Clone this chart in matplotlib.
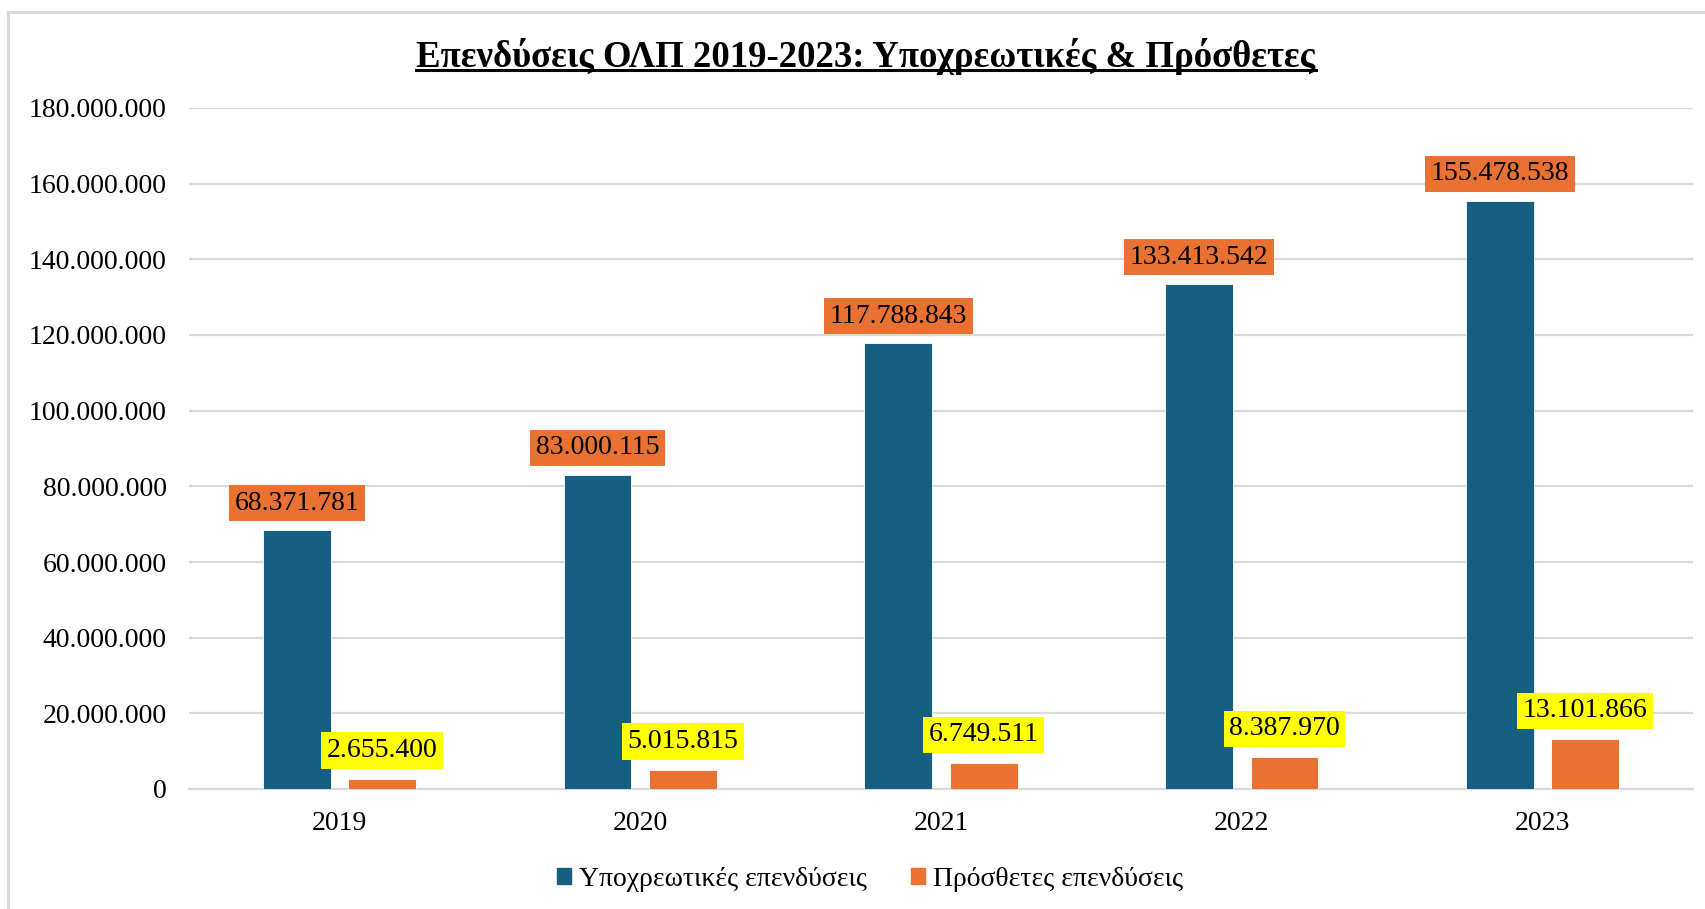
import numpy as np
import matplotlib
matplotlib.use("Agg")
import matplotlib.pyplot as plt
from matplotlib.patches import Patch, Rectangle
from matplotlib.lines import Line2D
from matplotlib.ticker import FuncFormatter

plt.rcParams['font.family'] = ['Liberation Serif', 'DejaVu Serif']

# data
years = ['2019', '2020', '2021', '2022', '2023']
ypoxreotikes = [68371781, 83000115, 117788843, 133413542, 155478538]
prostheta = [2655400, 5015815, 6749511, 8387970, 13101866]
series_names = ['Υποχρεωτικές επενδύσεις', 'Πρόσθετες επενδύσεις']
title = 'Επενδύσεις ΟΛΠ 2019-2023: Υποχρεωτικές & Πρόσθετες'

blue = '#156082'
orange = '#E97132'
grid_c = '#D9D9D9'

def fmt(v):
    return f'{int(v):,}'.replace(',', '.')

W, H = 1705, 909
fig = plt.figure(figsize=(W / 100, H / 100), dpi=100)
ax = fig.add_axes([189 / W, 1 - 789 / H, (1693 - 189) / W, (789 - 108) / H])

x = np.arange(len(years))
bw = 0.225
off = 0.142
b1 = ax.bar(x - off, ypoxreotikes, bw, color=blue, edgecolor='white', linewidth=0.6, zorder=3)
b2 = ax.bar(x + off, prostheta, bw, color=orange, edgecolor='white', linewidth=0.6, zorder=3)

for xi, v in zip(x, ypoxreotikes):
    ax.annotate(fmt(v), (xi - off, v), xytext=(0, 19.5), textcoords='offset points',
                ha='center', va='center', fontsize=20, zorder=5,
                bbox=dict(boxstyle='square,pad=0.2', fc=orange, ec='none'))
for xi, v in zip(x, prostheta):
    ax.annotate(fmt(v), (xi + off, v), xytext=(0, 20.5), textcoords='offset points',
                ha='center', va='center', fontsize=20, zorder=5,
                bbox=dict(boxstyle='square,pad=0.2', fc='#FFFF00', ec='none'))

ax.set_xlim(-0.5, 4.5)
ax.set_ylim(0, 180000000)
ax.set_yticks(np.arange(0, 180000001, 20000000))
ax.yaxis.set_major_formatter(FuncFormatter(lambda v, p: fmt(v)))
ax.set_xticks(x)
ax.set_xticklabels(years)
ax.tick_params(axis='both', length=0, labelsize=20)
ax.tick_params(axis='y', pad=16)
ax.tick_params(axis='x', pad=15.5)
ax.grid(axis='y', color=grid_c, linewidth=1.6, zorder=0)
for s in ['top', 'right', 'left']:
    ax.spines[s].set_visible(False)
ax.spines['bottom'].set_color(grid_c)
ax.spines['bottom'].set_linewidth(1.6)

# title with underline
t = fig.text(866 / W, 1 - 67 / H, title, ha='center', va='baseline',
             fontsize=26.5, fontweight='bold')

handles = [Patch(color=blue), Patch(color=orange)]
fig.legend(handles, series_names, loc='center', bbox_to_anchor=(870 / W, 1 - 879 / H),
           ncol=2, frameon=False, fontsize=20, handlelength=0.5, handleheight=0.5,
           handletextpad=0.3, columnspacing=1.6)

# outer chart border
fig.patches.append(Rectangle((8 / W, -0.1), 1.2, 1 - 12 / H + 0.1, transform=fig.transFigure,
                             fill=False, ec=grid_c, lw=2.2))

fig.canvas.draw()
bb = t.get_window_extent()
yl = (H - 70) / H
fig.lines.append(Line2D([bb.x0 / W, bb.x1 / W], [yl, yl], transform=fig.transFigure,
                        color='black', lw=2.2))

fig.savefig('out.png', dpi=100)
